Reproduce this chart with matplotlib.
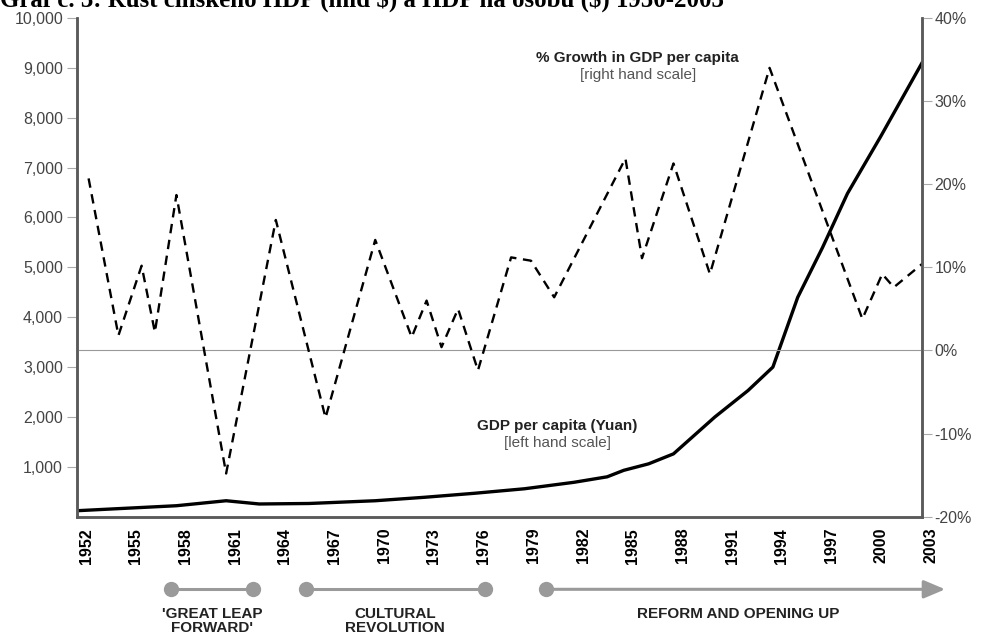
"""GDP per capita (yuan) and its % growth, China 1952-2003, twin-axis line chart."""
import matplotlib
matplotlib.use("Agg")
import matplotlib.pyplot as plt
from matplotlib.transforms import ScaledTranslation, blended_transform_factory

plt.rcParams['font.family'] = ['Liberation Sans', 'DejaVu Sans']

TITLE = "Graf č. 3: Růst čínského HDP (mld $) a HDP na osobu ($) 1950-2003"

YEAR_TICKS = list(range(1952, 2004, 3))
LEFT_TICKS = list(range(1000, 10001, 1000))
RIGHT_TICKS = list(range(-20, 41, 10))

# GDP per capita, yuan (left hand scale)
GDP_YEARS = [1952, 1955, 1958, 1961, 1963, 1966, 1970, 1973, 1976, 1979,
             1982, 1984, 1985, 1986.5, 1988, 1990.5, 1992.5, 1994, 1995.5,
             1997, 1998.5, 2000.5, 2003]
GDP_YUAN = [120, 170, 220, 320, 255, 265, 320, 390, 470, 560,
            690, 800, 930, 1060, 1260, 2000, 2530, 3000, 4400,
            5400, 6480, 7620, 9100]

# % growth in GDP per capita (right hand scale)
GROWTH_YEARS = [1952.7, 1954.5, 1955.9, 1956.7, 1958, 1961, 1964, 1967, 1970,
                1972.2, 1973.1, 1974, 1975, 1976.2, 1978.2, 1979.4, 1980.8,
                1985.1, 1986.1, 1988, 1990.2, 1993.8, 1999.4, 2000.6, 2001.3,
                2003]
GROWTH_PCT = [20.7, 1.8, 10.2, 2.2, 18.7, -14.8, 15.7, -8.1, 13.3,
              1.6, 6.0, 0.4, 5.0, -2.4, 11.2, 10.8, 6.4,
              23.1, 11.1, 22.5, 9.2, 34.0, 3.8, 9.2, 7.6,
              10.4]

PERIOD_LABELS = ["'GREAT LEAP\nFORWARD'", "CULTURAL\nREVOLUTION",
                 "REFORM AND OPENING UP"]
PERIOD_START = [1957.7, 1965.8, 1980.3]
PERIOD_END = [1962.6, 1976.6, 2004.4]

GREY = "#9a9a9a"
SPINE = "#5a5a5a"


def main():
    fig = plt.figure(figsize=(9.83, 6.34), dpi=100)
    ax = fig.add_axes([77 / 983, 1 - 516.7 / 634, 845 / 983, 498.7 / 634])
    ax2 = ax.twinx()

    # left: GDP per capita
    ax.plot(GDP_YEARS, GDP_YUAN, color="black", lw=2.4, solid_joinstyle="round")
    ax.set_xlim(1952, 2003)
    ax.set_ylim(0, 10000)
    ax.set_yticks(LEFT_TICKS)
    ax.set_yticklabels([f"{v:,}" for v in LEFT_TICKS])
    ax.set_xticks(YEAR_TICKS)
    ax.set_xticklabels([str(y) for y in YEAR_TICKS], rotation=90,
                       fontweight="bold", fontsize=11.5)
    ax.tick_params(axis="x", length=0, pad=8)
    ax.tick_params(axis="y", length=7, width=0.8, color="#aaaaaa",
                   labelsize=11.5, labelcolor="#444444", pad=3)
    shift = ScaledTranslation(0.09, 0, fig.dpi_scale_trans)
    for lab in ax.get_xticklabels():
        lab.set_transform(lab.get_transform() + shift)

    # right: % growth
    ax2.axhline(0, color="#999999", lw=0.8, zorder=1)
    ax2.plot(GROWTH_YEARS, GROWTH_PCT, color="black", lw=1.7,
             dashes=(4.0, 2.8))
    ax2.set_ylim(-20, 40)
    ax2.set_yticks(RIGHT_TICKS)
    ax2.set_yticklabels([f"{v}%" for v in RIGHT_TICKS])
    ax2.tick_params(axis="y", length=7, width=0.8, color="#aaaaaa",
                    labelsize=11.5, labelcolor="#444444", pad=2)

    for a in (ax, ax2):
        a.spines["top"].set_visible(False)
        for side in ("left", "right", "bottom"):
            a.spines[side].set_color(SPINE)
            a.spines[side].set_linewidth(1.8)

    # series labels
    ax2.text(1985.85, 35.15, "% Growth in GDP per capita", ha="center",
             va="center", fontsize=11, fontweight="bold", color="#222222")
    ax2.text(1985.85, 33.15, "[right hand scale]", ha="center", va="center",
             fontsize=11, color="#555555")
    ax.text(1981.0, 1810, "GDP per capita (Yuan)", ha="center", va="center",
            fontsize=11, fontweight="bold", color="#222222")
    ax.text(1981.0, 1470, "[left hand scale]", ha="center", va="center",
            fontsize=11, color="#555555")

    # historical periods under the axis
    trans = blended_transform_factory(ax.transData, ax.transAxes)
    y_bar = -0.1456
    for i, (label, x0, x1) in enumerate(zip(PERIOD_LABELS, PERIOD_START, PERIOD_END)):
        last = i == len(PERIOD_LABELS) - 1
        if last:
            ax.annotate("", xy=(x1, y_bar), xytext=(x0, y_bar),
                        xycoords=trans, textcoords=trans,
                        arrowprops=dict(arrowstyle="-|>,head_length=1.3,head_width=0.55",
                                        color=GREY, lw=2.2, shrinkA=0, shrinkB=0))
            ax.plot([x0], [y_bar], "o", color=GREY, ms=10, transform=trans,
                    clip_on=False)
            cx = 1991.9
        else:
            ax.plot([x0, x1], [y_bar, y_bar], "-o", color=GREY, lw=2.2, ms=10,
                    transform=trans, clip_on=False)
            cx = (x0 + x1) / 2
        ax.text(cx, -0.181, label, transform=trans, ha="center", va="top",
                fontsize=11, fontweight="bold", color="#222222",
                linespacing=1.0)

    fig.text(0.0, 1 - 7 / 634, TITLE, ha="left", va="baseline",
             fontsize=17.9, fontweight="bold", family="Liberation Serif",
             parse_math=False)

    fig.savefig("out.png", dpi=100)


if __name__ == "__main__":
    main()
